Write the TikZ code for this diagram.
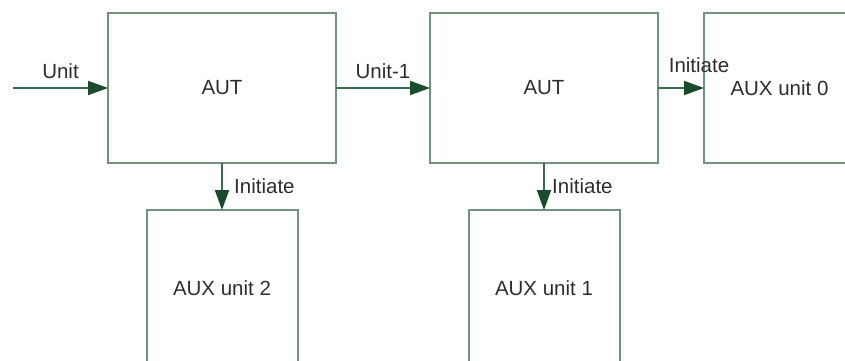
\documentclass[tikz,border=0pt]{standalone}
\usepackage{fontspec}
\setmainfont{Liberation Sans}
\usetikzlibrary{positioning,arrows.meta}
\definecolor{boxline}{RGB}{112,146,126}
\definecolor{arrline}{RGB}{60,105,78}
\definecolor{arrhead}{RGB}{25,75,45}
\definecolor{labeltext}{RGB}{45,45,45}

\begin{document}
\begin{tikzpicture}
 [x=1pt,y=1pt, font=\fontsize{20.5}{24}\selectfont, text=labeltext,
  unitbox/.style={rectangle,draw=boxline,line width=2pt,minimum width=228pt,minimum height=150pt,inner sep=0pt,outer sep=0pt},
  auxbox/.style={rectangle,draw=boxline,line width=2pt,minimum width=151pt,minimum height=156pt,inner sep=0pt,outer sep=0pt},
  flow/.style={draw=arrline,line width=1.8pt,-{Triangle[length=20pt,width=14pt,color=arrhead]}}]
 \useasboundingbox (0,0) rectangle (845,360);
 \clip (0,0) rectangle (845,360);
 \node (aut1) [unitbox] at (222,272) {AUT};
 \node (aut2) [unitbox, right=94pt of aut1] {AUT};
 \node (aux0) [auxbox, minimum height=150pt, right=46pt of aut2] {AUX unit 0};
 \node (aux2) [auxbox, below=47pt of aut1] {AUX unit 2};
 \node (aux1) [auxbox, below=47pt of aut2] {AUX unit 1};
 \coordinate (in) at (13,272);
 \draw[flow] (in) -- node[above=5pt] {Unit} (aut1);
 \draw[flow] (aut1) -- node[above=5pt] {Unit-1} (aut2);
 \draw[flow] (aut2) -- node[above=11pt, xshift=18pt] {Initiate} (aux0);
 \draw[flow] (aut1) -- node[right=8pt] {Initiate} (aux2);
 \draw[flow] (aut2) -- node[right=4pt] {Initiate} (aux1);
\end{tikzpicture}
\end{document}
